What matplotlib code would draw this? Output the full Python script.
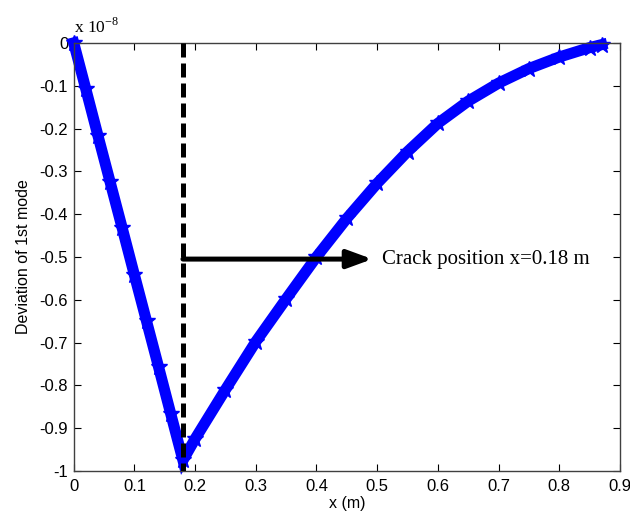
import matplotlib.pyplot as plt
import numpy as np

# deviation of the 1st mode along the beam (units of 1e-8)
x_left = [0.0, 0.02, 0.04, 0.06, 0.08, 0.10, 0.12, 0.14, 0.16, 0.18]
y_left = [0.0, -0.108, -0.217, -0.325, -0.433, -0.542, -0.650, -0.758, -0.867, -0.975]

x_right = [0.18, 0.20, 0.25, 0.30, 0.35, 0.40, 0.45, 0.50, 0.55, 0.60,
           0.65, 0.70, 0.75, 0.80, 0.85, 0.87]
y_right = [-0.975, -0.925, -0.81, -0.698, -0.598, -0.50, -0.41, -0.328, -0.254, -0.188,
           -0.136, -0.094, -0.060, -0.033, -0.011, -0.004]

crack_x = 0.18
arrow_y = -0.505
arrow_end = 0.492

xticks = [0, 0.1, 0.2, 0.3, 0.4, 0.5, 0.6, 0.7, 0.8, 0.9]
yticks = [0, -0.1, -0.2, -0.3, -0.4, -0.5, -0.6, -0.7, -0.8, -0.9, -1]

fig = plt.figure(figsize=(6.3, 5.17), dpi=100)
ax = fig.add_axes([0.117, 0.089, 0.867, 0.828])

x_all = x_left + x_right[1:]
y_all = y_left + y_right[1:]
ax.plot(x_all, y_all, color='#0000ff', lw=8, marker='*', ms=12,
        solid_joinstyle='miter', zorder=2, clip_on=False)

ax.plot([crack_x, crack_x], [0, -1], color='black', lw=3.6,
        dashes=(2.8, 1.2), zorder=3)

ax.annotate('', xy=(arrow_end, arrow_y), xytext=(crack_x, arrow_y),
            arrowprops=dict(arrowstyle='-|>,head_length=1.5,head_width=0.55',
                            color='black', lw=3.6, shrinkA=0, shrinkB=0),
            zorder=4)
ax.text(arrow_end + 0.016, arrow_y, 'Crack position x=0.18 m',
        family='Liberation Serif', fontsize=15, va='center', ha='left')

ax.set_xlim(0, 0.9)
ax.set_ylim(-1, 0)
ax.set_xticks(xticks)
ax.set_xticklabels(['0' if t == 0 else f'{t:g}' for t in xticks])
ax.set_yticks(yticks)
ax.set_yticklabels([f'{t:g}' for t in yticks])
ax.tick_params(direction='in', length=5, top=True, right=True,
               labelsize=12, colors='black')
ax.tick_params(axis='x', pad=5.5)
ax.tick_params(axis='y', pad=4)
for lab in ax.get_xticklabels() + ax.get_yticklabels():
    lab.set_family('Liberation Sans')
for sp in ax.spines.values():
    sp.set_color('#404040')
    sp.set_linewidth(1)

ax.set_xlabel('x (m)', family='Liberation Sans', fontsize=11.5, labelpad=2)
ax.set_ylabel('Deviation of 1st mode', family='Liberation Sans', fontsize=11.5,
              labelpad=6)

# exponent of the y axis, above the top-left corner
ax.text(0.0, 1.024, r'x 10$^{\mathregular{-8}}$', transform=ax.transAxes,
        family='Liberation Serif', fontsize=12.5, ha='left', va='baseline')

fig.savefig('out.png', dpi=100, facecolor='white')
